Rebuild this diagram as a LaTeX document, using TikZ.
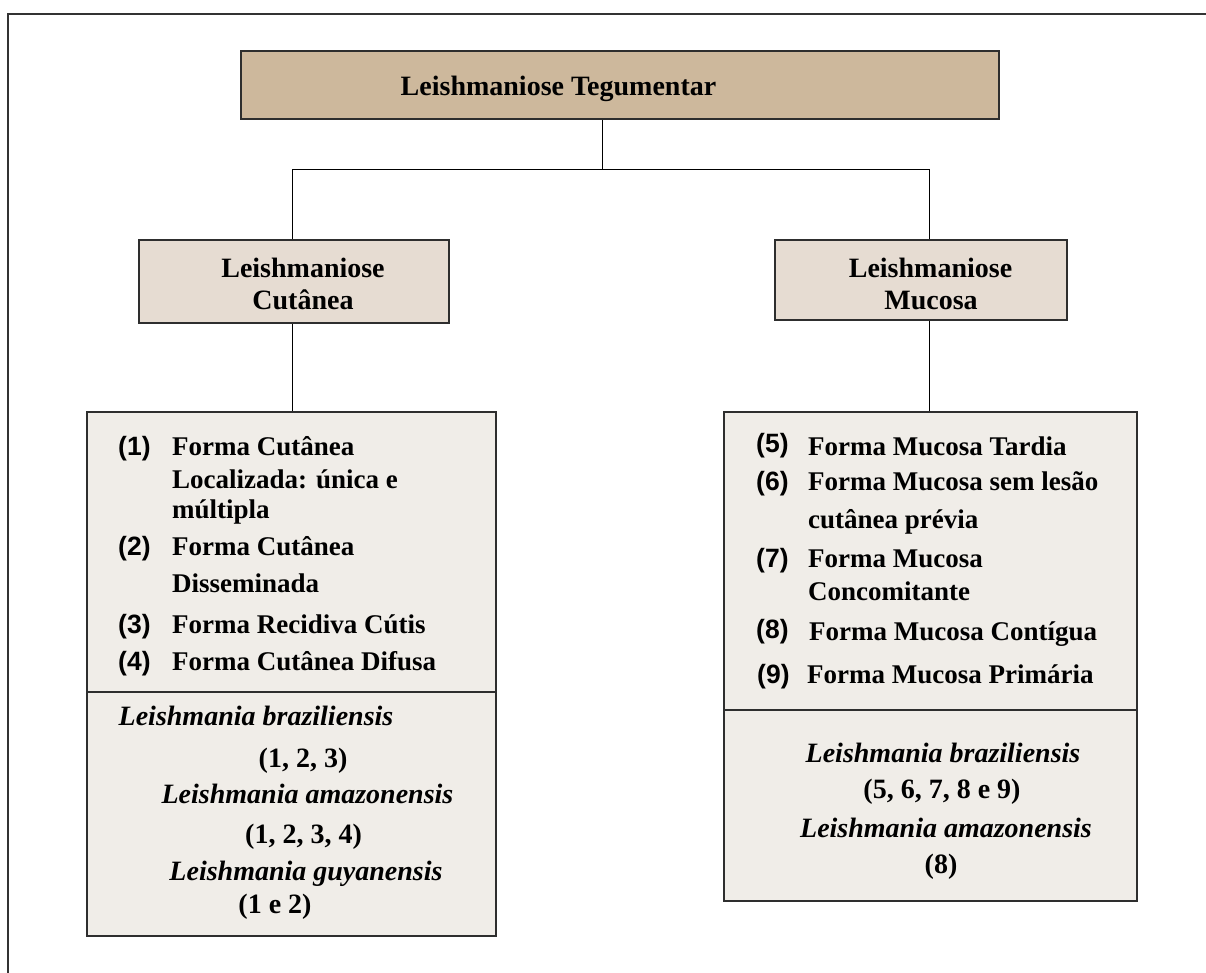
\documentclass[tikz,border=0pt]{standalone}
\usepackage{fontspec}
\setmainfont{Liberation Serif}
\newfontfamily\numfont{Liberation Sans}
\definecolor{topfill}{HTML}{CDB89C}
\definecolor{midfill}{HTML}{E6DCD2}
\definecolor{listfill}{HTML}{F0EDE8}
\definecolor{edge}{HTML}{2E2E2E}
\begin{document}
\begin{tikzpicture}[x=1pt,y=-1pt,
  boxstyle/.style={draw=edge,line width=1.8pt,inner sep=0pt,anchor=north west},
  conn/.style={draw=black,line width=1pt},
  headtxt/.style={font=\fontsize{28}{28}\selectfont\bfseries,anchor=base,inner sep=0pt},
  itemtxt/.style={font=\fontsize{27}{27}\selectfont\bfseries,anchor=base west,inner sep=0pt},
  numtxt/.style={font=\numfont\fontsize{26.5}{26.5}\selectfont\bfseries,anchor=base west,inner sep=0pt},
  spectxt/.style={font=\fontsize{28}{28}\selectfont\bfseries\itshape,anchor=base,inner sep=0pt},
  codetxt/.style={font=\fontsize{28}{28}\selectfont\bfseries,anchor=base,inner sep=0pt}]
\useasboundingbox (0,0) rectangle (1206,973);
% outer frame (top and left)
\draw[line width=1.8pt,draw=black!80] (8,973) -- (8,14) -- (1206,14);

% boxes
\node[boxstyle,fill=topfill,minimum width=758pt,minimum height=68pt] (top) at (240,50) {};
\node[boxstyle,fill=midfill,minimum width=310pt,minimum height=83pt] (cut) at (138,239) {};
\node[boxstyle,fill=midfill,minimum width=292pt,minimum height=80pt] (muc) at (774,239) {};
\node[boxstyle,fill=listfill,minimum width=409pt,minimum height=524pt] (lcut) at (86,411) {};
\node[boxstyle,fill=listfill,minimum width=413pt,minimum height=489pt] (lmuc) at (723,411) {};

% dividers
\coordinate (dl) at (86,692);
\coordinate (dr) at (723,710);
\draw[draw=edge,line width=1.8pt] (dl) -- (dl -| lcut.east);
\draw[draw=edge,line width=1.8pt] (dr) -- (dr -| lmuc.east);

% connectors
\coordinate (jt) at (602,170);
\coordinate (jl) at (292,170);
\coordinate (jr) at (929,170);
\draw[conn] (top.south -| jt) -- (jt);
\draw[conn] (jl |- cut.north) -- (jl) -- (jr) -- (jr |- muc.north);
\draw[conn] (jl |- cut.south) -- (jl |- lcut.north);
\draw[conn] (jr |- muc.south) -- (jr |- lmuc.north);

% headings
\node[headtxt] (t1) at (558.5,96) {Leishmaniose Tegumentar};
\node[headtxt] (c1) at (303,278) {Leishmaniose};
\node[headtxt] (c2) at (303,309) {Cutânea};
\node[headtxt] (m1) at (930.5,278) {Leishmaniose};
\node[headtxt] (m2) at (931,309) {Mucosa};

% left list
\node[numtxt] (n1) at (118,455) {(1)};
\node[itemtxt] (i1a) at (172,455) {Forma Cutânea};
\node[itemtxt] (i1b) at (172,488) {Localizada: única e};
\node[itemtxt] (i1c) at (172,518) {múltipla};
\node[numtxt] (n2) at (118,555) {(2)};
\node[itemtxt] (i2a) at (172,555) {Forma Cutânea};
\node[itemtxt] (i2b) at (172,592) {Disseminada};
\node[numtxt] (n3) at (118,633) {(3)};
\node[itemtxt] (i3) at (172,633) {Forma Recidiva Cútis};
\node[numtxt] (n4) at (118,670) {(4)};
\node[itemtxt] (i4) at (172,670) {Forma Cutânea Difusa};

\node[spectxt] (s1) at (256,725) {Leishmania braziliensis};
\node[codetxt] (k1) at (303,767) {(1, 2, 3)};
\node[spectxt] (s2) at (307.5,803) {Leishmania amazonensis};
\node[codetxt] (k2) at (303.5,843) {(1, 2, 3, 4)};
\node[spectxt] (s3) at (306,880) {Leishmania guyanensis};
\node[codetxt] (k3) at (275,913) {(1 e 2)};

% right list
\node[numtxt] (n5) at (756,452) {(5)};
\node[itemtxt] (i5) at (808,455) {Forma Mucosa Tardia};
\node[numtxt] (n6) at (756,490) {(6)};
\node[itemtxt] (i6a) at (808,490) {Forma Mucosa sem lesão};
\node[itemtxt] (i6b) at (808,528) {cutânea prévia};
\node[numtxt] (n7) at (756,567) {(7)};
\node[itemtxt] (i7a) at (808,567) {Forma Mucosa};
\node[itemtxt] (i7b) at (808,600) {Concomitante};
\node[numtxt] (n8) at (756,638) {(8)};
\node[itemtxt] (i8) at (809,640) {Forma Mucosa Contígua};
\node[numtxt] (n9) at (757,683) {(9)};
\node[itemtxt] (i9) at (807,683) {Forma Mucosa Primária};

\node[spectxt] (s4) at (943,762) {Leishmania braziliensis};
\node[codetxt] (k4) at (942,798) {(5, 6, 7, 8 e 9)};
\node[spectxt] (s5) at (946,837) {Leishmania amazonensis};
\node[codetxt] (k5) at (941,873) {(8)};
\end{tikzpicture}
\end{document}
